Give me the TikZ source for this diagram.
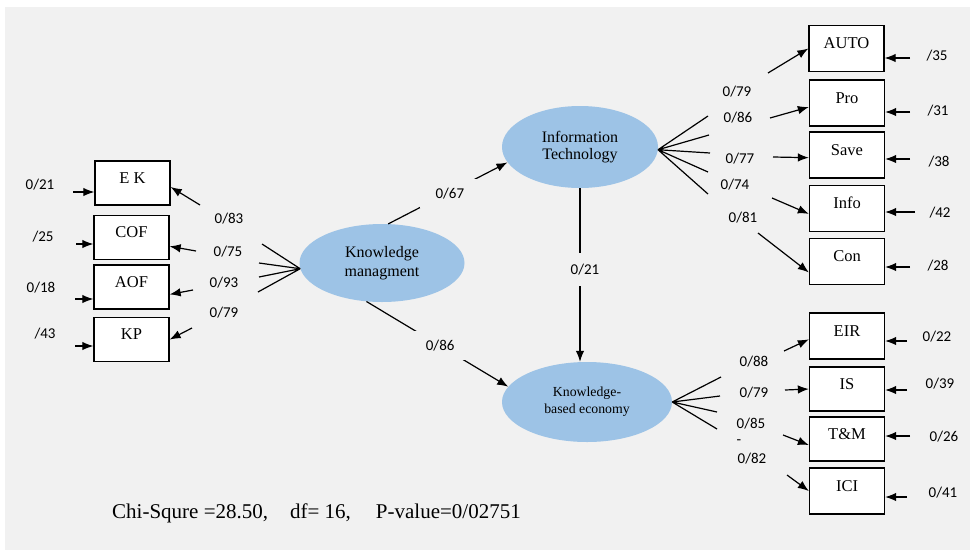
\documentclass[tikz,border=0pt]{standalone}
\usepackage{fontspec}
\setmainfont{Liberation Serif}
\newfontfamily\numfont{Carlito}
\usetikzlibrary{arrows.meta,shapes.geometric}
\definecolor{bgray}{RGB}{241,241,241}
\definecolor{lblue}{RGB}{157,195,230}
\tikzset{
  obs/.style={draw, fill=white, line width=1.3pt, minimum width=75pt, minimum height=46pt,
    inner sep=0pt, text height=8pt, text depth=8pt, font=\fontsize{16.5}{18}\selectfont},
  lat/.style={ellipse, fill=lblue, inner sep=0pt, align=center},
  ld/.style={font=\numfont\fontsize{15}{17}\selectfont},
  gap/.style={ld, fill=bgray},
  ln/.style={line width=1.2pt},
  arr/.style={ln, -{Latex[length=11pt,width=8.5pt]}},
}
\begin{document}
\begin{tikzpicture}[x=1pt,y=-1pt]
      \useasboundingbox (0,0) rectangle (970,550);
      \fill[bgray] (5,7) rectangle (970,550);
      % latent variables
      \node[lat, minimum width=165pt, minimum height=78pt, font=\fontsize{16}{19}\selectfont] (km) at (382,263) {Knowledge\\managment};
      \node[lat, minimum width=156pt, minimum height=82pt, font=\fontsize{16}{17}\selectfont] (it) at (580,147) {Information\\Technology};
      \node[lat, minimum width=170pt, minimum height=80pt, font=\fontsize{13.8}{17}\selectfont] (kbe) at (587,402) {Knowledge-\\based economy};
      \draw[arr] (km.81) -- node[gap, inner xsep=16pt, inner ysep=9pt, xshift=2pt] (p1) {0/67} (it.192);
      \draw[arr] (km.248) -- node[gap, pos=0.52, inner xsep=12pt, inner ysep=9pt] (p2) {0/86} (kbe.169);
      \draw[arr] (it.south) -- node[gap, pos=0.47, inner xsep=2pt, inner ysep=11pt, xshift=5pt] (p3) {0/21} (it.south |- kbe.north);
      % knowledge managment
      \node[obs, minimum height=44pt] (ek) at (132.5,183) {E K};
      \node[obs, minimum height=44pt] (cof) at (131.5,237.5) {COF};
      \node[obs, minimum height=44pt] (aof) at (131.5,287) {AOF};
      \node[obs, minimum height=44pt] (kp) at (131.5,339.5) {KP};
      \coordinate (f1) at (262,244); \coordinate (f2) at (259,263);
      \coordinate (f3) at (259,277); \coordinate (f4) at (258,292);
      \draw[ln] (km.184)--(f1) (km.184)--(f2) (km.184)--(f3) (km.184)--(f4);
      \node[ld] (l1) at (229,219) {0/83};
      \node[ld] (l2) at (228,252) {0/75};
      \node[ld] (l3) at (224,283) {0/93};
      \node[ld] (l4) at (224,313) {0/79};
      \coordinate (a1) at (200,205); \draw[arr] (a1) -- (ek.-6);
      \coordinate (a2) at (196,251); \draw[arr] (a2) -- (cof.-13);
      \coordinate (a3) at (193,290); \draw[arr] (a3) -- (aof.-11);
      \coordinate (a4) at (192,328); \draw[arr] (a4) -- (kp.east);
      \node[ld] (d1) at (40,185) {0/21};
      \node[ld] (d2) at (43,237) {/25};
      \node[ld] (d3) at (41,288) {0/18};
      \node[ld] (d4) at (45,334) {/43};
      \coordinate (e1) at (73,192); \draw[arr] (e1) -- (e1 -| ek.west);
      \coordinate (e2) at (76,244); \draw[arr] (e2) -- (e2 -| cof.west);
      \coordinate (e3) at (75,299); \draw[arr] (e3) -- (e3 -| aof.west);
      \coordinate (e4) at (75,346); \draw[arr] (e4) -- (e4 -| kp.west);
      % information technology
      \node[obs] (auto) at (846.5,48.5) {AUTO};
      \node[obs] (pro) at (847,103) {Pro};
      \node[obs] (save) at (847,155) {Save};
      \node[obs] (info) at (847,208.5) {Info};
      \node[obs] (con) at (847,261.5) {Con};
      \coordinate (g1) at (708,116); \coordinate (g2) at (709,135);
      \coordinate (g3) at (710,153); \coordinate (g4) at (708,172);
      \coordinate (g5) at (708,194);
      \draw[ln] (it.-2)--(g1) (it.-2)--(g2) (it.-2)--(g3) (it.-2)--(g4) (it.-2)--(g5);
      \node[ld] (l5) at (737,92) {0/79};
      \node[ld] (l6) at (738,118) {0/86};
      \node[ld] (l7) at (740,159) {0/77};
      \node[ld] (l8) at (735,185) {0/74};
      \node[ld] (l9) at (743,218) {0/81};
      \coordinate (h1) at (768,73); \draw[arr] (h1) -- (auto.west);
      \coordinate (h2) at (770,118); \draw[arr] (h2) -- (pro.186);
      \coordinate (h3) at (773,157); \draw[arr] (h3) -- (save.184);
      \coordinate (h4) at (772,198); \draw[arr] (h4) -- (info.188);
      \coordinate (h5) at (758,233); \draw[arr] (h5) -- (con.196);
      \node[ld] (d5) at (937,56) {/35};
      \node[ld] (d6) at (938,111) {/31};
      \node[ld] (d7) at (939,162) {/38};
      \node[ld] (d8) at (940,213) {/42};
      \node[ld] (d9) at (938,266) {/28};
      \coordinate (r1) at (910,58); \draw[arr] (r1) -- (r1 -| auto.east);
      \coordinate (r2) at (910,112); \draw[arr] (r2) -- (r2 -| pro.east);
      \coordinate (r3) at (910,159); \draw[arr] (r3) -- (r3 -| save.east);
      \coordinate (r4) at (915,212); \draw[arr] (r4) -- (r4 -| info.east);
      \coordinate (r5) at (910,267); \draw[arr] (r5) -- (r5 -| con.east);
      % knowledge-based economy
      \node[obs] (eir) at (847,336) {EIR};
      \node[obs, minimum height=44pt] (is) at (847,389) {IS};
      \node[obs, minimum height=44pt] (tm) at (847,439) {T\&M};
      \node[obs] (ici) at (847,491) {ICI};
      \coordinate (k1) at (721,377); \coordinate (k2) at (720,396);
      \coordinate (k3) at (717,412); \coordinate (k4) at (717,429);
      \draw[ln] (kbe.east)--(k1) (kbe.east)--(k2) (kbe.east)--(k3) (kbe.east)--(k4);
      \node[ld] (l10) at (754,362) {0/88};
      \node[ld] (l11) at (754,393) {0/79};
      \node[ld] (l12) at (751,424) {0/85};
      \node[ld] (l13) at (739,442) {-};
      \node[ld] (l14) at (752,459) {0/82};
      \coordinate (m1) at (784,351); \draw[arr] (m1) -- (eir.185);
      \coordinate (m2) at (785,390); \draw[arr] (m2) -- (is.west);
      \coordinate (m3) at (783,435); \draw[arr] (m3) -- (tm.189);
      \coordinate (m4) at (787,475); \draw[arr] (m4) -- (ici.west);
      \node[ld] (d10) at (937,337) {0/22};
      \node[ld] (d11) at (940,384) {0/39};
      \node[ld] (d12) at (944,437) {0/26};
      \node[ld] (d13) at (943,493) {0/41};
      \coordinate (s1) at (907,341); \draw[arr] (s1) -- (s1 -| eir.east);
      \coordinate (s2) at (907,390); \draw[arr] (s2) -- (s2 -| is.east);
      \coordinate (s3) at (910,436); \draw[arr] (s3) -- (s3 -| tm.east);
      \coordinate (s4) at (907,497); \draw[arr] (s4) -- (s4 -| ici.east);
      % fit
      \node[anchor=west, inner sep=0pt, font=\fontsize{21}{24}\selectfont] (fit) at (112,513)
        {Chi-Squre =28.50,\hspace{22pt}df= 16,\hspace{25pt}P-value=0/02751};
    \end{tikzpicture}
\end{document}
